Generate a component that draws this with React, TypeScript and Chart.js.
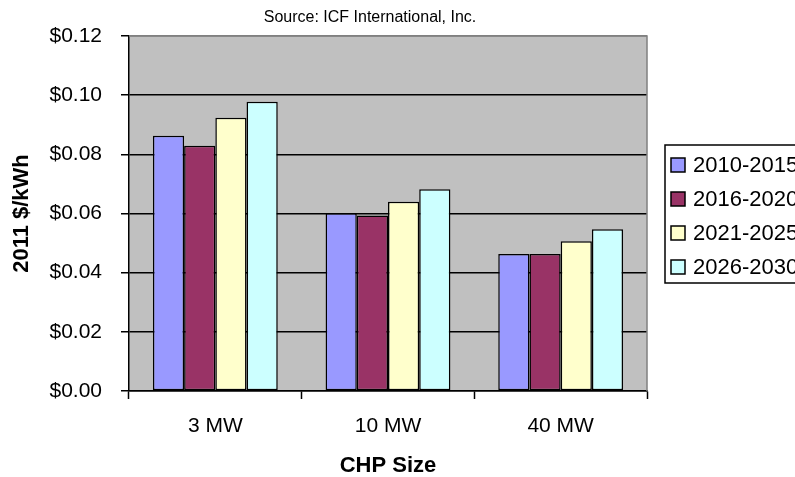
import React, { useEffect, useRef } from "react";
import { Chart, registerables } from "chart.js";

Chart.register(...registerables);

// Levelized cost of CHP power by unit size and period
const categories = ["3 MW", "10 MW", "40 MW"];
const periods = ["2010-2015", "2016-2020", "2021-2025", "2026-2030"];
const values2010_2015 = [0.0863, 0.0601, 0.0463];
const values2016_2020 = [0.0829, 0.0593, 0.0463];
const values2021_2025 = [0.0924, 0.064, 0.0506];
const values2026_2030 = [0.0978, 0.0682, 0.0547];
const seriesValues = [values2010_2015, values2016_2020, values2021_2025, values2026_2030];
const seriesColors = ["#9999FF", "#993366", "#FFFFCC", "#CCFFFF"];
const yTicks = [0, 0.02, 0.04, 0.06, 0.08, 0.1, 0.12];

const sourceNote = "Source: ICF International, Inc.";
const yTitle = "2011 $/kWh";
const xTitle = "CHP Size";

const FONT = "'Liberation Sans', Arial, sans-serif";

// Grey plot background plus the grey top/right frame
const plotFrame = {
  id: "plotFrame",
  beforeDraw(chart: any) {
    const { ctx, chartArea: a } = chart;
    ctx.save();
    ctx.fillStyle = "#C0C0C0";
    ctx.fillRect(a.left, a.top, a.right - a.left, a.bottom - a.top);
    ctx.restore();
  },
  afterDatasetsDraw(chart: any) {
    const { ctx, chartArea: a } = chart;
    ctx.save();
    ctx.strokeStyle = "#808080";
    ctx.lineWidth = 1.5;
    ctx.beginPath();
    ctx.moveTo(a.left, a.top);
    ctx.lineTo(a.right, a.top);
    ctx.lineTo(a.right, a.bottom);
    ctx.stroke();
    ctx.restore();
  },
};

// Small source note above the plot
const sourceTitle = {
  id: "sourceTitle",
  afterDraw(chart: any) {
    const { ctx } = chart;
    ctx.save();
    ctx.font = `16px ${FONT}`;
    ctx.fillStyle = "#000";
    ctx.textAlign = "center";
    ctx.textBaseline = "middle";
    ctx.fillText(sourceNote, 370, 18);
    ctx.restore();
  },
};

// Boxed legend to the right of the plot (runs past the canvas edge)
const boxLegend = {
  id: "boxLegend",
  afterDraw(chart: any) {
    const { ctx } = chart;
    const left = 665;
    const top = 145;
    const rowH = 34;
    const n = chart.data.datasets.length;
    ctx.save();
    ctx.strokeStyle = "#000";
    ctx.lineWidth = 1.5;
    ctx.beginPath();
    ctx.moveTo(left + 300, top);
    ctx.lineTo(left, top);
    ctx.lineTo(left, top + rowH * n + 2);
    ctx.lineTo(left + 300, top + rowH * n + 2);
    ctx.stroke();
    ctx.font = `22px ${FONT}`;
    ctx.textBaseline = "middle";
    ctx.textAlign = "left";
    chart.data.datasets.forEach((ds: any, i: number) => {
      const cy = top + 20 + rowH * i;
      ctx.fillStyle = ds.backgroundColor;
      ctx.fillRect(671, cy - 7, 14, 14);
      ctx.strokeStyle = "#000";
      ctx.lineWidth = 1.5;
      ctx.strokeRect(671, cy - 7, 14, 14);
      ctx.fillStyle = "#000";
      ctx.fillText(ds.label, 693, cy + 1);
    });
    ctx.restore();
  },
};

export default function App() {
  const canvasRef = useRef<HTMLCanvasElement | null>(null);

  useEffect(() => {
    document.body.style.margin = "0";
    const canvas = canvasRef.current;
    if (!canvas) return;
    const chart = new Chart(canvas, {
      type: "bar",
      data: {
        labels: categories,
        datasets: periods.map((p, i) => ({
          label: p,
          data: seriesValues[i],
          backgroundColor: seriesColors[i],
          borderColor: "#000",
          borderWidth: 1.5,
          borderSkipped: false,
          categoryPercentage: 0.723,
          barPercentage: 1,
        })),
      },
      options: {
        responsive: false,
        animation: false,
        devicePixelRatio: 1,
        layout: { padding: { top: 36, right: 148, left: 0, bottom: 0 } },
        plugins: {
          legend: { display: false },
          title: { display: false },
          tooltip: { enabled: false },
        },
        scales: {
          x: {
            afterFit: (s: any) => {
              s.height = 86;
            },
            grid: {
              drawOnChartArea: false,
              drawTicks: true,
              tickLength: 8,
              tickColor: "#000",
              tickWidth: 1.5,
              offset: true,
            },
            border: { display: true, color: "#000", width: 1.5 },
            ticks: {
              color: "#000",
              font: { family: FONT, size: 21 },
              padding: 15,
            },
            title: {
              display: true,
              text: xTitle,
              color: "#000",
              font: { family: FONT, size: 22, weight: "bold", lineHeight: 1 },
              padding: { top: 0, bottom: 0 },
            },
          },
          y: {
            min: 0,
            max: 0.12,
            afterFit: (s: any) => {
              s.width = 129;
            },
            afterBuildTicks: (s: any) => {
              s.ticks = yTicks.map((v) => ({ value: v }));
            },
            grid: {
              color: (c: any) => (c.tick && c.tick.value >= 0.12 ? "#808080" : "#000"),
              lineWidth: 1.5,
              drawTicks: true,
              tickLength: 8,
              tickColor: "#000",
              tickWidth: 1.5,
            },
            border: { display: true, color: "#000", width: 1.5 },
            ticks: {
              color: "#000",
              font: { family: FONT, size: 21 },
              padding: 19,
              callback: (v: any) => "$" + Number(v).toFixed(2),
            },
            title: {
              display: true,
              text: yTitle,
              color: "#000",
              font: { family: FONT, size: 22, weight: "bold", lineHeight: 1 },
              padding: { top: 11, bottom: 0 },
            },
          },
        },
      },
      plugins: [plotFrame, sourceTitle, boxLegend],
    });
    return () => chart.destroy();
  }, []);

  return (
    <div style={{ width: 795, height: 477, overflow: "hidden", background: "#fff" }}>
      <canvas ref={canvasRef} width={795} height={477} style={{ display: "block" }} />
    </div>
  );
}
